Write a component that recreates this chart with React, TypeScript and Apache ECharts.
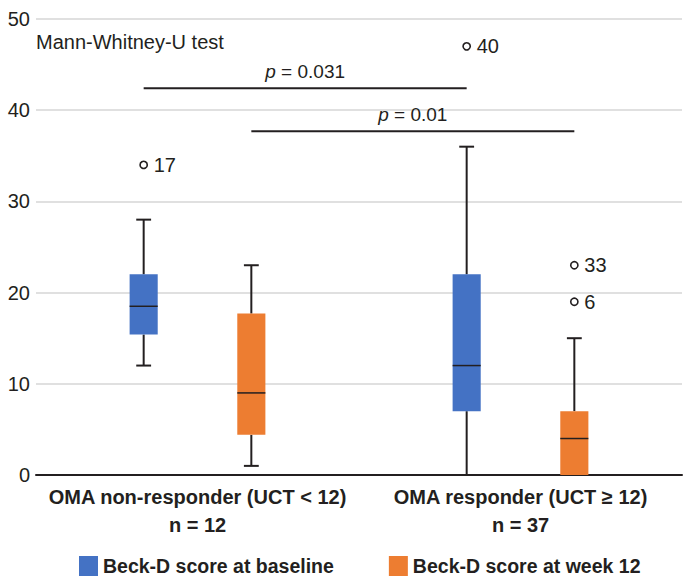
import React, { useEffect, useRef } from 'react';
import * as echarts from 'echarts';

// ---- data ----
const categories = ['OMA non-responder (UCT < 12)\nn = 12', 'OMA responder (UCT ≥ 12)\nn = 37'];
const seriesNames = ['Beck-D score at baseline', 'Beck-D score at week 12'];
const seriesColors = ['#4472C4', '#ED7D31'];
// each box: [min, Q1, median, Q3, max], one per category
const baselineBoxes = [
  [12, 15.4, 18.5, 22, 28],
  [0, 7, 12, 22, 36],
];
const week12Boxes = [
  [1, 4.4, 9, 17.7, 23],
  [0, 0, 4, 7, 15],
];
const baselineOutlierCats = [0, 1];
const baselineOutlierValues = [34, 47];
const baselineOutlierLabels = ['17', '40'];
const week12OutlierCats = [1, 1];
const week12OutlierValues = [23, 19];
const week12OutlierLabels = ['33', '6'];
const comparisonPValues = ['0.031', '0.01'];
const comparisonLevels = [42.4, 37.7];
const comparisonSides = [0, 1];
const yMin = 0;
const yMax = 50;
const yInterval = 10;
const noteText = 'Mann-Whitney-U test';

// ---- styling ----
const INK = '#231f20';
const FONT = '"Liberation Sans", Arial, sans-serif';
const SIDE = [-1 / 6, 1 / 6];
const BOX_FRAC = 0.087;
const CAP_FRAC = 0.046;

function boxRenderer(side: number, color: string) {
  return (_params: any, api: any) => {
    const cat = api.value(0);
    const band = api.size([1, 0])[0];
    const cx = api.coord([cat, 0])[0] + SIDE[side] * band;
    const y = (i: number) => api.coord([cat, api.value(i)])[1];
    const pMin = y(1), pQ1 = y(2), pMed = y(3), pQ3 = y(4), pMax = y(5);
    const bw = band * BOX_FRAC;
    const cw = band * CAP_FRAC;
    const ls = { stroke: INK, lineWidth: 2 };
    const children: any[] = [];
    if (pMax < pQ3 - 0.5) {
      children.push({ type: 'line', shape: { x1: cx, y1: pMax, x2: cx, y2: pQ3 }, style: ls });
      children.push({ type: 'line', shape: { x1: cx - cw / 2, y1: pMax, x2: cx + cw / 2, y2: pMax }, style: ls });
    }
    if (pMin > pQ1 + 0.5) {
      children.push({ type: 'line', shape: { x1: cx, y1: pQ1, x2: cx, y2: pMin }, style: ls });
      children.push({ type: 'line', shape: { x1: cx - cw / 2, y1: pMin, x2: cx + cw / 2, y2: pMin }, style: ls });
    }
    children.push({
      type: 'rect',
      shape: { x: cx - bw / 2, y: pQ3, width: bw, height: pQ1 - pQ3 },
      style: { fill: color },
    });
    children.push({
      type: 'line',
      shape: { x1: cx - bw / 2, y1: pMed, x2: cx + bw / 2, y2: pMed },
      style: { stroke: INK, lineWidth: 1.5 },
    });
    return { type: 'group', children };
  };
}

function outlierRenderer(side: number, labels: string[]) {
  return (params: any, api: any) => {
    const cat = api.value(0);
    const band = api.size([1, 0])[0];
    const p = api.coord([cat, api.value(1)]);
    const cx = p[0] + SIDE[side] * band;
    return {
      type: 'group',
      children: [
        { type: 'circle', shape: { cx, cy: p[1], r: 3.6 }, style: { fill: '#fff', stroke: INK, lineWidth: 1.6 } },
        {
          type: 'text',
          style: {
            text: labels[params.dataIndex],
            x: cx + 10,
            y: p[1],
            align: 'left',
            verticalAlign: 'middle',
            fill: INK,
            font: `20px ${FONT}`,
          },
        },
      ],
    };
  };
}

function comparisonRenderer(params: any, api: any) {
  const from = api.value(0);
  const to = api.value(1);
  const level = api.value(2);
  const side = api.value(3);
  const band = api.size([1, 0])[0];
  const a = api.coord([from, level]);
  const b = api.coord([to, level]);
  const x1 = a[0] + SIDE[side] * band;
  const x2 = b[0] + SIDE[side] * band;
  return {
    type: 'group',
    children: [
      { type: 'line', shape: { x1, y1: a[1], x2, y2: a[1] }, style: { stroke: INK, lineWidth: 2 } },
      {
        type: 'text',
        style: {
          text: `{i|p} = ${comparisonPValues[params.dataIndex]}`,
          x: (x1 + x2) / 2,
          y: a[1] - 17,
          align: 'center',
          verticalAlign: 'middle',
          fill: INK,
          font: `19px ${FONT}`,
          rich: { i: { fontStyle: 'italic', fontSize: 19, fontFamily: FONT, fill: INK } },
        },
      },
    ],
  };
}

export default function App() {
  const ref = useRef<HTMLDivElement>(null);
  useEffect(() => {
    document.body.style.margin = '0';
    if (!ref.current) return;
    const chart = echarts.init(ref.current, undefined, { renderer: 'svg' });
    const option: any = {
      animation: false,
      backgroundColor: '#fff',
      textStyle: { fontFamily: FONT },
      title: {
        text: noteText,
        left: 36,
        top: 31,
        padding: 0,
        textStyle: { fontSize: 20, fontWeight: 'normal', color: INK, fontFamily: FONT, lineHeight: 22 },
      },
      grid: { left: 36, right: 1, top: 19, bottom: 102, containLabel: false },
      legend: {
        left: 79,
        top: 556,
        padding: 0,
        itemWidth: 19,
        itemHeight: 20,
        itemGap: 55,
        selectedMode: false,
        textStyle: { fontSize: 19.5, fontWeight: 'bold', color: INK, fontFamily: FONT, lineHeight: 18 },
        data: seriesNames.map((n, i) => ({ name: n, icon: 'rect', itemStyle: { color: seriesColors[i] } })),
      },
      xAxis: {
        type: 'category',
        data: categories,
        boundaryGap: true,
        axisTick: { show: false },
        axisLine: { lineStyle: { color: INK, width: 2 } },
        axisLabel: {
          interval: 0,
          margin: 8,
          fontSize: 20,
          fontWeight: 'bold',
          lineHeight: 28,
          color: INK,
          fontFamily: FONT,
        },
        splitLine: { show: false },
      },
      yAxis: {
        type: 'value',
        min: yMin,
        max: yMax,
        interval: yInterval,
        axisLine: { show: false },
        axisTick: { show: false },
        axisLabel: { margin: 6, fontSize: 20, color: INK, fontFamily: FONT },
        splitLine: { lineStyle: { color: '#d6d6d6', width: 1.5 } },
      },
      series: [
        {
          type: 'custom',
          name: seriesNames[0],
          itemStyle: { color: seriesColors[0] },
          encode: { x: 0, y: [1, 2, 3, 4, 5] },
          data: baselineBoxes.map((b, i) => [i, ...b]),
          renderItem: boxRenderer(0, seriesColors[0]),
          z: 3,
        },
        {
          type: 'custom',
          name: seriesNames[1],
          itemStyle: { color: seriesColors[1] },
          encode: { x: 0, y: [1, 2, 3, 4, 5] },
          data: week12Boxes.map((b, i) => [i, ...b]),
          renderItem: boxRenderer(1, seriesColors[1]),
          z: 3,
        },
        {
          type: 'custom',
          name: 'baseline outliers',
          encode: { x: 0, y: 1 },
          data: baselineOutlierCats.map((c, i) => [c, baselineOutlierValues[i]]),
          renderItem: outlierRenderer(0, baselineOutlierLabels),
          z: 4,
        },
        {
          type: 'custom',
          name: 'week 12 outliers',
          encode: { x: 0, y: 1 },
          data: week12OutlierCats.map((c, i) => [c, week12OutlierValues[i]]),
          renderItem: outlierRenderer(1, week12OutlierLabels),
          z: 4,
        },
        {
          type: 'custom',
          name: 'comparisons',
          encode: { x: [0, 1], y: 2 },
          data: comparisonLevels.map((lv, i) => [0, categories.length - 1, lv, comparisonSides[i]]),
          renderItem: comparisonRenderer,
          z: 4,
        },
      ],
    };
    chart.setOption(option);
    return () => chart.dispose();
  }, []);
  return <div ref={ref} style={{ width: 683, height: 577 }} />;
}
